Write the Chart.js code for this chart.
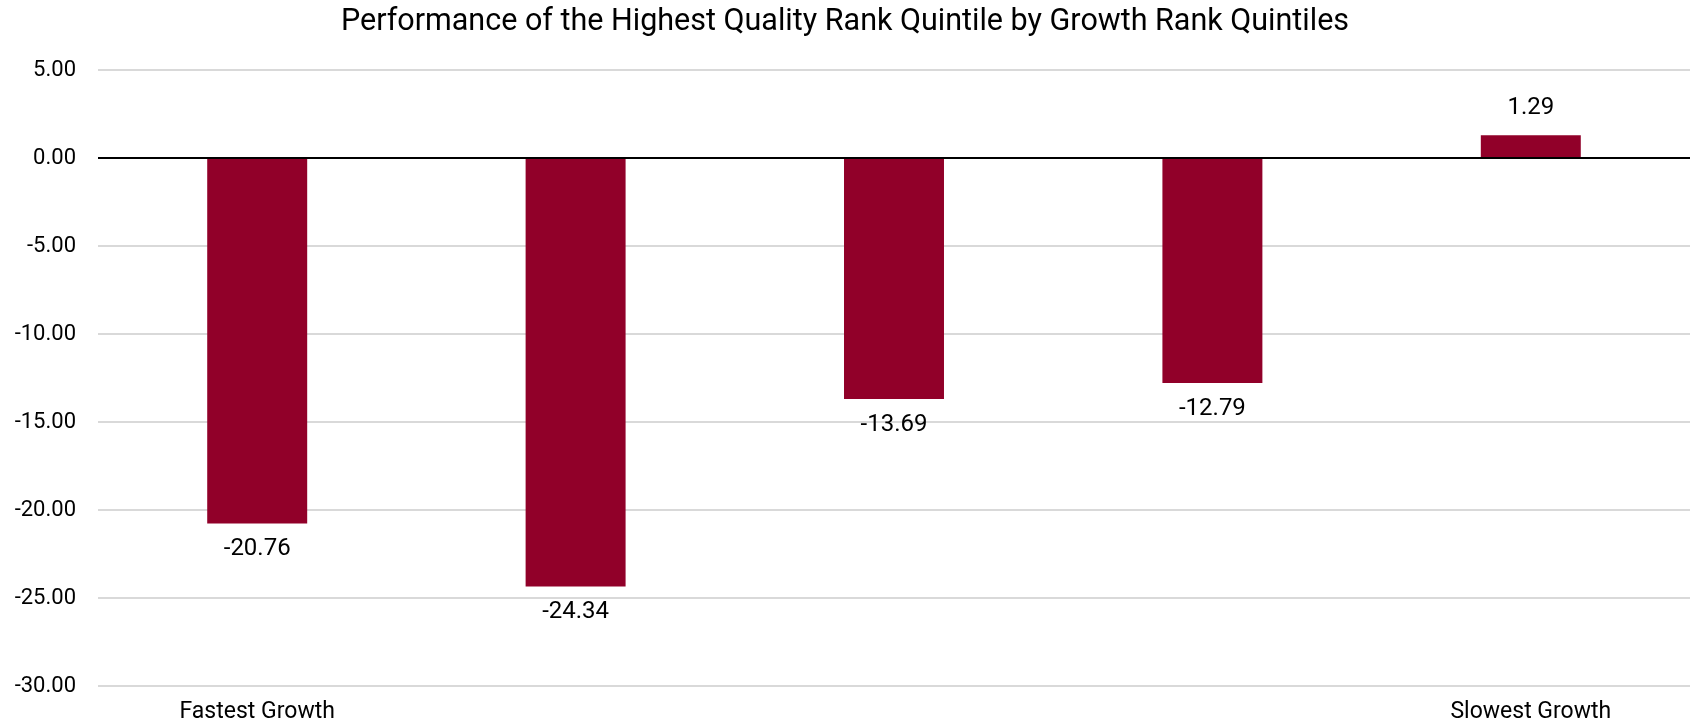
<!DOCTYPE html>
<html>
<head>
<meta charset="utf-8">
<title>Highest Quality Rank Quintile by Growth Rank</title>
<script src="https://cdn.jsdelivr.net/npm/chart.js@4.4.1/dist/chart.umd.min.js"></script>
<style>
    html, body { margin: 0; padding: 0; background: #fff; }
    #wrap { width: 1694px; height: 725px; }
</style>
</head>
<body>
<div id="wrap"><canvas id="chart"></canvas></div>
<script>
"use strict";

// growth quintiles, only the two ends are named on the axis
const categories = ["Fastest Growth", "", "", "", "Slowest Growth"];
const performance = [-20.76, -24.34, -13.69, -12.79, 1.29];
const yTicks = [5, 0, -5, -10, -15, -20, -25, -30];

const fontFamily = "Roboto, 'DejaVu Sans', sans-serif";

// prints the value under negative bars and above positive ones
const barValueLabels = {
    id: "barValueLabels",
    afterDatasetsDraw(chart) {
        const ctx = chart.ctx;
        const meta = chart.getDatasetMeta(0);
        ctx.save();
        ctx.font = "24px " + fontFamily;
        ctx.fillStyle = "#000";
        ctx.textAlign = "center";
        meta.data.forEach((bar, i) => {
            const v = chart.data.datasets[0].data[i];
            if (v < 0) {
                ctx.textBaseline = "top";
                ctx.fillText(v.toFixed(2), bar.x, bar.y + 14);
            } else {
                ctx.textBaseline = "bottom";
                ctx.fillText(v.toFixed(2), bar.x, bar.y - 15);
            }
        });
        ctx.restore();
    }
};

new Chart(document.getElementById("chart"), {
    type: "bar",
    data: {
        labels: categories,
        datasets: [{
            data: performance,
            backgroundColor: "#910029",
            categoryPercentage: 1,
            barPercentage: 0.314,
        }]
    },
    options: {
        responsive: true,
        maintainAspectRatio: false,
        animation: false,
        layout: {
            padding: { left: 0, right: 4, top: 0, bottom: 0 }
        },
        plugins: {
            legend: { display: false },
            tooltip: { enabled: false },
            title: {
                display: true,
                text: "Performance of the Highest Quality Rank Quintile by Growth Rank Quintiles",
                color: "#000",
                font: { family: fontFamily, size: 30.5, weight: "normal" },
                padding: { top: 4, bottom: 29.4 }
            }
        },
        scales: {
            x: {
                grid: { display: false, drawTicks: false },
                border: { display: false },
                afterFit: (axis) => { axis.height = 39; },
                ticks: {
                    color: "#000",
                    font: { family: fontFamily, size: 23 },
                    padding: 12,
                    maxRotation: 0,
                    autoSkip: false
                }
            },
            y: {
                min: -30,
                max: 5,
                afterBuildTicks: (axis) => {
                    axis.ticks = yTicks.map(v => ({ value: v }));
                },
                afterFit: (axis) => { axis.width = 98; },
                grid: {
                    drawTicks: false,
                    lineWidth: 2,
                    color: (ctx) => ctx.tick && ctx.tick.value === 0 ? "#000" : "#d9d9d9"
                },
                border: { display: false },
                ticks: {
                    color: "#000",
                    font: { family: fontFamily, size: 22 },
                    padding: 22,
                    callback: (value) => Number(value).toFixed(2)
                }
            }
        }
    },
    plugins: [barValueLabels]
});
</script>
</body>
</html>
